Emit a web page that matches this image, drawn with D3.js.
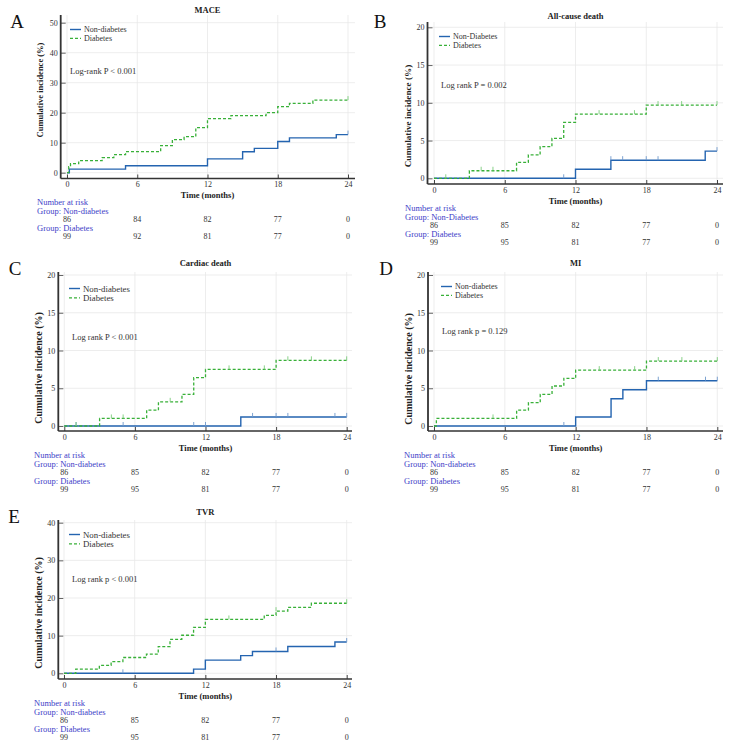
<!DOCTYPE html>
<html>
<head>
<meta charset="utf-8">
<script src="https://cdn.jsdelivr.net/npm/d3@7"></script>
<style>
  body { margin: 0; background: #fff; }
  svg { font-family: "Liberation Serif", "Times New Roman", serif; }
</style>
</head>
<body>
<svg id="chart" width="731" height="748"></svg>
<script>
// time axis
const months = [0, 6, 12, 18, 24];

// MACE (A)
const maceNon = [[0,0],[0.2,1.2],[5,2.3],[12,4.6],[15,7.0],[16,8.1],[18,10.4],[19,11.6],[23,12.7],[24,12.7]];
const maceDia = [[0,0],[0.15,2.0],[0.3,3.0],[1,4.0],[3,5.0],[4,6.0],[5,7.0],[8,9.0],[9,11.0],[10,12.0],[11,15.0],[12,18.0],[14,19.0],[17,20.0],[18,22.0],[19,23.1],[21,24.2],[24,24.2]];
const maceNonCens = [24];
const maceDiaCens = [24];
const maceRiskNon = [86, 84, 82, 77, 0];
const maceRiskDia = [99, 92, 81, 77, 0];

// All-cause death (B)
const deathNon = [[0,0],[12,1.2],[15,2.4],[23,3.6],[24,3.6]];
const deathDia = [[0,0],[3,1.0],[7,2.1],[8,3.1],[9,4.2],[10,5.3],[11,7.4],[12,8.5],[18,9.7],[24,9.7]];
const deathNonCens = [11, 15, 16, 18, 19, 24];
const deathDiaCens = [1, 4, 5, 14, 17, 19, 21, 24];
const deathRiskNon = [86, 85, 82, 77, 0];
const deathRiskDia = [99, 95, 81, 77, 0];

// Cardiac death (C)
const cardNon = [[0,0],[15,1.2],[24,1.2]];
const cardDia = [[0,0],[3,1.0],[7,2.1],[8,3.2],[10,4.2],[11,6.4],[12,7.5],[18,8.7],[24,8.7]];
const cardNonCens = [1, 5, 11, 12, 16, 18, 19, 23, 24];
const cardDiaCens = [1, 4, 5, 9, 14, 17, 19, 21, 24];
const cardRiskNon = [86, 85, 82, 77, 0];
const cardRiskDia = [99, 95, 81, 77, 0];

// MI (D)
const miNon = [[0,0],[12,1.2],[15,3.6],[16,4.8],[18,6.0],[24,6.0]];
const miDia = [[0,0],[0.2,1.0],[7,2.1],[8,3.1],[9,4.2],[10,5.3],[11,6.3],[12,7.4],[18,8.6],[24,8.6]];
const miNonCens = [11, 19, 23, 24];
const miDiaCens = [5, 14, 17, 19, 21, 24];
const miRiskNon = [86, 85, 82, 77, 0];
const miRiskDia = [99, 95, 81, 77, 0];

// TVR (E)
const tvrNon = [[0,0],[11,1.1],[12,3.5],[15,4.7],[16,5.8],[19,7.1],[23,8.3],[24,8.3]];
const tvrDia = [[0,0],[1,1.1],[3,2.1],[4,3.1],[5,4.2],[7,5.1],[8,7.1],[9,9.0],[10,10.1],[11,12.2],[12,14.3],[17,15.4],[18,16.5],[19,17.5],[21,18.6],[24,18.6]];
const tvrNonCens = [5, 18, 24];
const tvrDiaCens = [14, 18, 24];
const tvrRiskNon = [86, 85, 82, 77, 0];
const tvrRiskDia = [99, 95, 81, 77, 0];

const ticksA = [0, 10, 20, 30, 40, 50];
const ticks20 = [0, 5, 10, 15, 20];
const ticks40 = [0, 10, 20, 30, 40];

const blue = "#2464b0";
const green = "#38b038";
const riskColor = "#4040c8";

const panels = [
  { letter: "A", title: "MACE", non: maceNon, dia: maceDia, nonC: maceNonCens, diaC: maceDiaCens,
    rNon: maceRiskNon, rDia: maceRiskDia, yTicks: ticksA, yMax: 50,
    legNon: "Non-diabetes", grpNon: "Group: Non-diabetes", logrank: "Log-rank P < 0.001",
    x0: 67, x24: 348, ax: 60.7, y0: 172.7, yTop: 22.7, bot: 178.5, top: 15, right: 355,
    titleY: 10, lx: 17, ly: 21, labX: 40, labY: 90, labSize: 8.5,
    legX: 70, legY: 29.5, legSize: 8, legGap: 8.8, logX: 70, logY: 71, narX: 37 },
  { letter: "B", title: "All-cause death", non: deathNon, dia: deathDia, nonC: deathNonCens, diaC: deathDiaCens,
    rNon: deathRiskNon, rDia: deathRiskDia, yTicks: ticks20, yMax: 20,
    legNon: "Non-Diabetes", grpNon: "Group: Non-Diabetes", logrank: "Log rank P = 0.002",
    x0: 434, x24: 717, ax: 427.5, y0: 178.3, yTop: 27.3, bot: 184, top: 22, right: 723,
    titleY: 16, lx: 380, ly: 21, labX: 408, labY: 116, labSize: 9.2,
    legX: 439, legY: 36.5, legSize: 8, legGap: 8.8, logX: 441, logY: 85, narX: 405 },
  { letter: "C", title: "Cardiac death", non: cardNon, dia: cardDia, nonC: cardNonCens, diaC: cardDiaCens,
    rNon: cardRiskNon, rDia: cardRiskDia, yTicks: ticks20, yMax: 20,
    legNon: "Non-diabetes", grpNon: "Group: Non-diabetes", logrank: "Log rank P < 0.001",
    x0: 64.3, x24: 346.7, ax: 58.3, y0: 426, yTop: 275, bot: 431, top: 272, right: 352,
    titleY: 263, lx: 15, ly: 268, labX: 38, labY: 368, labSize: 10,
    legX: 69, legY: 288.5, legSize: 8.8, legGap: 9.4, logX: 72, logY: 337, narX: 34 },
  { letter: "D", title: "MI", non: miNon, dia: miDia, nonC: miNonCens, diaC: miDiaCens,
    rNon: miRiskNon, rDia: miRiskDia, yTicks: ticks20, yMax: 20,
    legNon: "Non-diabetes", grpNon: "Group: Non-diabetes", logrank: "Log rank p = 0.129",
    x0: 434, x24: 717.3, ax: 428, y0: 426, yTop: 275, bot: 431, top: 272, right: 723,
    titleY: 263, lx: 386, ly: 268, labX: 408, labY: 369, labSize: 10,
    legX: 441, legY: 286.5, legSize: 8, legGap: 8.8, logX: 442, logY: 331, narX: 404 },
  { letter: "E", title: "TVR", non: tvrNon, dia: tvrDia, nonC: tvrNonCens, diaC: tvrDiaCens,
    rNon: tvrRiskNon, rDia: tvrRiskDia, yTicks: ticks40, yMax: 40,
    legNon: "Non-diabetes", grpNon: "Group: Non-diabetes", logrank: "Log rank p < 0.001",
    x0: 64, x24: 346.7, ax: 58.3, y0: 673.3, yTop: 522.7, bot: 679, top: 520, right: 352,
    titleY: 512, lx: 14, ly: 516, labX: 38, labY: 613, labSize: 10,
    legX: 69, legY: 534.5, legSize: 8.8, legGap: 9.4, logX: 72, logY: 579, narX: 34 }
];

const svg = d3.select("#chart");

function valueAt(steps, t) {
  let v = 0;
  steps.forEach(s => { if (s[0] <= t) v = s[1]; });
  return v;
}

panels.forEach(p => {
  const g = svg.append("g");
  const x = d3.scaleLinear().domain([0, 24]).range([p.x0, p.x24]);
  const y = d3.scaleLinear().domain([0, p.yMax]).range([p.y0, p.yTop]);

  // grid
  g.selectAll(".hg").data(p.yTicks).join("line")
    .attr("x1", p.ax).attr("x2", p.right)
    .attr("y1", d => y(d)).attr("y2", d => y(d))
    .attr("stroke", "#e8e8e8").attr("stroke-width", 0.8);
  g.selectAll(".vg").data(months).join("line")
    .attr("x1", d => x(d)).attr("x2", d => x(d))
    .attr("y1", p.top).attr("y2", p.bot)
    .attr("stroke", "#e8e8e8").attr("stroke-width", 0.8);

  // axes
  const yAxis = g.append("g")
    .attr("transform", `translate(${p.ax},0)`)
    .call(d3.axisLeft(y).tickValues(p.yTicks).tickSize(-5).tickPadding(3));
  yAxis.select(".domain").remove();
  yAxis.selectAll("line").attr("stroke", "#666");
  yAxis.selectAll("text").attr("font-family", "Liberation Serif").attr("font-size", 8).attr("fill", "#333");

  const xAxis = g.append("g")
    .attr("transform", `translate(0,${p.bot})`)
    .call(d3.axisBottom(x).tickValues(months).tickSize(-4).tickPadding(3));
  xAxis.select(".domain").remove();
  xAxis.selectAll("line").attr("stroke", "#444");
  xAxis.selectAll("text").attr("font-family", "Liberation Serif").attr("font-size", 8).attr("fill", "#333");

  g.append("line").attr("x1", p.ax).attr("x2", p.ax).attr("y1", p.top).attr("y2", p.bot)
    .attr("stroke", "#333").attr("stroke-width", 1.8);
  g.append("line").attr("x1", p.ax).attr("x2", p.right).attr("y1", p.bot).attr("y2", p.bot)
    .attr("stroke", "#333").attr("stroke-width", 1.5);

  // curves
  const line = d3.line().x(d => x(d[0])).y(d => y(d[1])).curve(d3.curveStepAfter);
  g.append("path").datum(p.non).attr("d", line)
    .attr("fill", "none").attr("stroke", blue).attr("stroke-width", 1.4);
  g.append("path").datum(p.dia).attr("d", line)
    .attr("fill", "none").attr("stroke", green).attr("stroke-width", 1.3)
    .attr("stroke-dasharray", "3,2");

  // censor marks
  g.selectAll(".cn").data(p.nonC).join("line")
    .attr("x1", d => x(d)).attr("x2", d => x(d))
    .attr("y1", d => y(valueAt(p.non, d))).attr("y2", d => y(valueAt(p.non, d)) - 4)
    .attr("stroke", "#6f98cc").attr("stroke-width", 0.9);
  g.selectAll(".cd").data(p.diaC).join("line")
    .attr("x1", d => x(d)).attr("x2", d => x(d))
    .attr("y1", d => y(valueAt(p.dia, d))).attr("y2", d => y(valueAt(p.dia, d)) - 4)
    .attr("stroke", "#7ccc7c").attr("stroke-width", 0.9);

  // titles & labels
  g.append("text").attr("x", x(12)).attr("y", p.titleY).attr("dy", "0.35em")
    .attr("text-anchor", "middle").attr("font-weight", "bold").attr("font-size", 8.5)
    .attr("fill", "#222").text(p.title);
  g.append("text").attr("x", p.lx).attr("y", p.ly).attr("dy", "0.35em")
    .attr("text-anchor", "middle").attr("font-size", 19).attr("fill", "#111").text(p.letter);
  g.append("text").attr("transform", `translate(${p.labX},${p.labY}) rotate(-90)`)
    .attr("dy", "0.35em").attr("text-anchor", "middle").attr("font-weight", "bold")
    .attr("font-size", p.labSize).attr("fill", "#222").text("Cumulative incidence (%)");

  // legend
  const leg = [[p.legNon, blue, null, 1.4], ["Diabetes", green, "3,2", 1.3]];
  leg.forEach((l, i) => {
    const ly = p.legY + i * p.legGap;
    g.append("line").attr("x1", p.legX).attr("x2", p.legX + 11).attr("y1", ly).attr("y2", ly)
      .attr("stroke", l[1]).attr("stroke-width", l[3]).attr("stroke-dasharray", l[2]);
    g.append("text").attr("x", p.legX + 14).attr("y", ly).attr("dy", "0.35em")
      .attr("font-size", p.legSize).attr("fill", "#333").text(l[0]);
  });
  g.append("text").attr("x", p.logX).attr("y", p.logY).attr("dy", "0.35em")
    .attr("font-size", 8.5).attr("fill", "#333").text(p.logrank);

  // time label and number at risk
  g.append("text").attr("x", x(12)).attr("y", p.bot + 17).attr("dy", "0.35em")
    .attr("text-anchor", "middle").attr("font-weight", "bold").attr("font-size", 8.5)
    .attr("fill", "#222").text("Time (months)");
  g.append("text").attr("x", p.narX).attr("y", p.bot + 24).attr("dy", "0.35em")
    .attr("font-size", 8.5).attr("fill", riskColor).text("Number at risk");
  g.append("text").attr("x", p.narX).attr("y", p.bot + 33).attr("dy", "0.35em")
    .attr("font-size", 8.5).attr("fill", riskColor).text(p.grpNon);
  g.append("text").attr("x", p.narX).attr("y", p.bot + 50).attr("dy", "0.35em")
    .attr("font-size", 8.5).attr("fill", riskColor).text("Group: Diabetes");
  [[p.rNon, 41], [p.rDia, 58]].forEach(r => {
    g.selectAll(null).data(r[0]).join("text")
      .attr("x", (d, i) => x(months[i])).attr("y", p.bot + r[1]).attr("dy", "0.35em")
      .attr("text-anchor", "middle").attr("font-size", 8).attr("fill", "#333").text(d => d);
  });
});
</script>
</body>
</html>
